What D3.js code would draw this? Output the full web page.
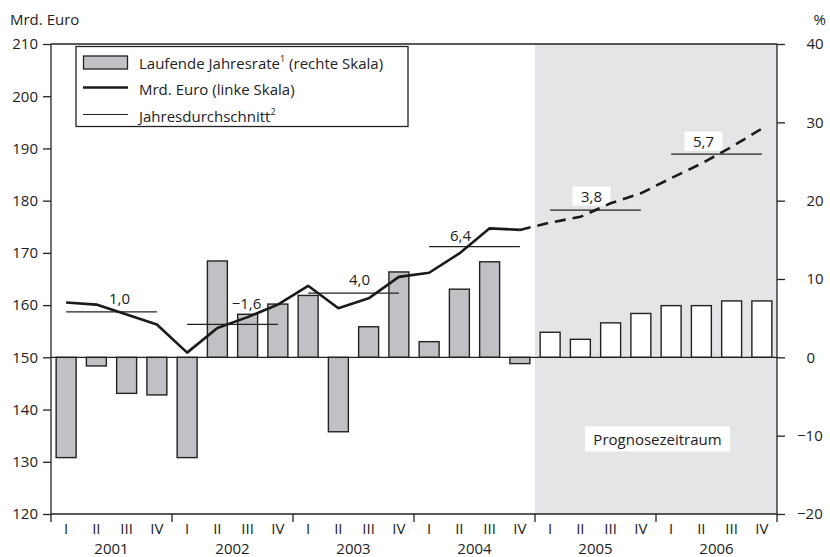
<!DOCTYPE html>
<meta charset="utf-8">
<style>
body { margin: 0; background: #fff; }
svg text { font-family: "Open Sans", sans-serif; fill: #222; }
.axis path { display: none; }
.axis line { stroke: #222; stroke-width: 1.3; }
</style>
<body>
<svg width="830" height="557"></svg>
<script src="https://cdn.jsdelivr.net/npm/d3@7"></script>
<script>

// data
var years = ["2001", "2002", "2003", "2004", "2005", "2006"];
var quarterNames = ["I", "II", "III", "IV"];
var rate = [-12.8, -1.1, -4.6, -4.8,  -12.8, 12.3, 5.5, 6.8,
            7.9, -9.5, 3.9, 10.9,  2.0, 8.7, 12.2, -0.8,
            3.2, 2.3, 4.4, 5.6,  6.6, 6.6, 7.2, 7.2];
var level = [160.5, 160.1, 158.2, 156.3,  150.9, 155.6, 157.7, 160.1,
             163.7, 159.4, 161.3, 165.4,  166.2, 169.9, 174.7, 174.4,
             175.8, 176.9, 179.5, 181.4,  184.3, 187.1, 190.3, 193.8];
var avgLevel = [158.7, 156.3, 162.3, 171.2, 178.2, 188.9];
var avgLabel = ["1,0", "\u22121,6", "4,0", "6,4", "3,8", "5,7"];
var forecastFrom = 16;   // first forecast quarter (2005 I)
var leftTicks = [120, 130, 140, 150, 160, 170, 180, 190, 200, 210];
var rightTicks = [-20, -10, 0, 10, 20, 30, 40];

var svg = d3.select("svg");
var L = 51, R = 777, T = 44, B = 514;
var fs = 15;

var keys = [];
years.forEach(function(y) { quarterNames.forEach(function(q) { keys.push(y + q); }); });

var x = d3.scaleBand().domain(keys).range([L, R]).paddingInner(0.34).paddingOuter(0.17);
var yL = d3.scaleLinear().domain([120, 210]).range([B, T]);
var yR = d3.scaleLinear().domain([-20, 40]).range([B, T]);
var cx = function(i) { return x(keys[i]) + x.bandwidth() / 2; };

// forecast shading
var shadeX = x(keys[forecastFrom]) - x.step() * 0.17;
svg.append("rect")
    .attr("x", shadeX)
    .attr("y", T)
    .attr("width", R - shadeX)
    .attr("height", B - T)
    .attr("fill", "#e4e5e7");

// bars
svg.append("g").selectAll("rect")
  .data(rate)
  .enter().append("rect")
    .attr("x", function(d, i) { return x(keys[i]); })
    .attr("width", x.bandwidth())
    .attr("y", function(d) { return yR(Math.max(0, d)); })
    .attr("height", function(d) { return Math.abs(yR(d) - yR(0)); })
    .attr("fill", function(d, i) { return i < forecastFrom ? "#c0c1c4" : "#fff"; })
    .attr("stroke", "#222")
    .attr("stroke-width", 1.4);

// zero line
svg.append("line")
    .attr("x1", L).attr("x2", R)
    .attr("y1", yR(0)).attr("y2", yR(0))
    .attr("stroke", "#222").attr("stroke-width", 1.3);

// "Prognosezeitraum"
var prog = svg.append("g");
prog.append("rect")
    .attr("x", 585).attr("y", 426.5).attr("width", 145).attr("height", 25)
    .attr("fill", "#fff");
prog.append("text")
    .attr("x", 657.5).attr("y", 445)
    .attr("text-anchor", "middle")
    .attr("font-size", fs)
    .text("Prognosezeitraum");

// annual averages
var labelDx = [8, 14, 6, -14, -4, -13];
var labelDy = [-13, -21, -14, -11, -14, -13];
var avg = svg.append("g");
avgLevel.forEach(function(v, k) {
  var x1 = cx(k * 4), x2 = cx(k * 4 + 3);
  avg.append("line")
      .attr("x1", x1).attr("x2", x2)
      .attr("y1", yL(v)).attr("y2", yL(v))
      .attr("stroke", "#222").attr("stroke-width", 1.2);
  var mx = (x1 + x2) / 2 + labelDx[k];
  var ty = yL(v) + labelDy[k];
  if (k * 4 >= forecastFrom) {
    avg.append("rect")
        .attr("x", mx - 19).attr("y", ty - 9.5)
        .attr("width", 38).attr("height", 19)
        .attr("fill", "#fff");
  }
  avg.append("text")
      .attr("x", mx).attr("y", ty + 5.5)
      .attr("text-anchor", "middle")
      .attr("font-size", fs)
      .text(avgLabel[k]);
});

// level line, solid then dashed
var line = d3.line()
    .x(function(d) { return cx(d[0]); })
    .y(function(d) { return yL(d[1]); });
var pts = level.map(function(v, i) { return [i, v]; });

svg.append("path")
    .datum(pts.slice(0, forecastFrom))
    .attr("d", line)
    .attr("fill", "none").attr("stroke", "#1a1a1a").attr("stroke-width", 2.6)
    .attr("stroke-linejoin", "round");
svg.append("path")
    .datum(pts.slice(forecastFrom - 1))
    .attr("d", line)
    .attr("fill", "none").attr("stroke", "#1a1a1a").attr("stroke-width", 2.6)
    .attr("stroke-dasharray", "11,7");

// frame
svg.append("line")
    .attr("x1", L).attr("x2", R).attr("y1", T).attr("y2", T)
    .attr("stroke", "#222").attr("stroke-width", 1.3);
svg.append("line")
    .attr("x1", L).attr("x2", R).attr("y1", B).attr("y2", B)
    .attr("stroke", "#222").attr("stroke-width", 1.3);

// left axis
svg.append("g")
    .attr("class", "axis")
    .attr("transform", "translate(" + L + ",0)")
    .call(d3.axisLeft(yL).tickValues(leftTicks).tickSize(8).tickPadding(5))
  .call(function(g) {
    g.append("line").attr("y1", T).attr("y2", B).attr("stroke", "#222").attr("stroke-width", 1.3);
    g.selectAll("text").attr("font-size", fs).style("font-family", "Open Sans").attr("fill", "#222");
  });

// right axis
svg.append("g")
    .attr("class", "axis")
    .attr("transform", "translate(" + R + ",0)")
    .call(d3.axisRight(yR).tickValues(rightTicks).tickSize(8).tickPadding(30)
      .tickFormat(function(d) { return d < 0 ? "\u2212" + (-d) : d; }))
  .call(function(g) {
    g.append("line").attr("y1", T).attr("y2", B).attr("stroke", "#222").attr("stroke-width", 1.3);
    g.selectAll("text")
        .attr("font-size", fs).style("font-family", "Open Sans").attr("fill", "#222")
        .attr("x", function(d) { return d < 0 ? 20 : 29.5; });
  });

// x axis: quarters and years
var xa = svg.append("g");
d3.range(years.length + 1).forEach(function(k) {
  var xx = L + k * 4 * x.step();
  xa.append("line")
      .attr("x1", xx).attr("x2", xx).attr("y1", B).attr("y2", B + 8)
      .attr("stroke", "#222").attr("stroke-width", 1.3);
});
xa.selectAll("text.q")
  .data(keys)
  .enter().append("text")
    .attr("class", "q")
    .attr("x", function(d, i) { return cx(i); })
    .attr("y", 534)
    .attr("text-anchor", "middle")
    .attr("font-size", fs)
    .text(function(d, i) { return quarterNames[i % 4]; });
xa.selectAll("text.y")
  .data(years)
  .enter().append("text")
    .attr("class", "y")
    .attr("x", function(d, k) { return L + (k * 4 + 2) * x.step(); })
    .attr("y", 554)
    .attr("text-anchor", "middle")
    .attr("font-size", fs)
    .text(function(d) { return d; });

// axis titles
svg.append("text").attr("x", 10).attr("y", 25).attr("font-size", fs).text("Mrd. Euro");
svg.append("text").attr("x", 826).attr("y", 25).attr("text-anchor", "end").attr("font-size", fs).text("%");

// legend
var lg = svg.append("g");
lg.append("rect")
    .attr("x", 76).attr("y", 46.5).attr("width", 332).attr("height", 80)
    .attr("fill", "#fff").attr("stroke", "#222").attr("stroke-width", 1.3);
lg.append("rect")
    .attr("x", 83.5).attr("y", 56).attr("width", 44).attr("height", 13)
    .attr("fill", "#c0c1c4").attr("stroke", "#222").attr("stroke-width", 1.3);
lg.append("line")
    .attr("x1", 83).attr("x2", 128).attr("y1", 87.5).attr("y2", 87.5)
    .attr("stroke", "#1a1a1a").attr("stroke-width", 2.6);
lg.append("line")
    .attr("x1", 83).attr("x2", 128).attr("y1", 114.5).attr("y2", 114.5)
    .attr("stroke", "#222").attr("stroke-width", 1.1);

var t1 = lg.append("text").attr("x", 139).attr("y", 68.5).attr("font-size", fs);
t1.append("tspan").text("Laufende Jahresrate");
t1.append("tspan").attr("font-size", 9).attr("dy", -7).text("1");
t1.append("tspan").attr("dy", 7).text(" (rechte  Skala)");
lg.append("text").attr("x", 139).attr("y", 95).attr("font-size", fs).text("Mrd. Euro (linke Skala)");
var t3 = lg.append("text").attr("x", 139).attr("y", 122).attr("font-size", fs);
t3.append("tspan").text("Jahresdurchschnitt");
t3.append("tspan").attr("font-size", 9).attr("dy", -7).text("2");

</script>
</body>
